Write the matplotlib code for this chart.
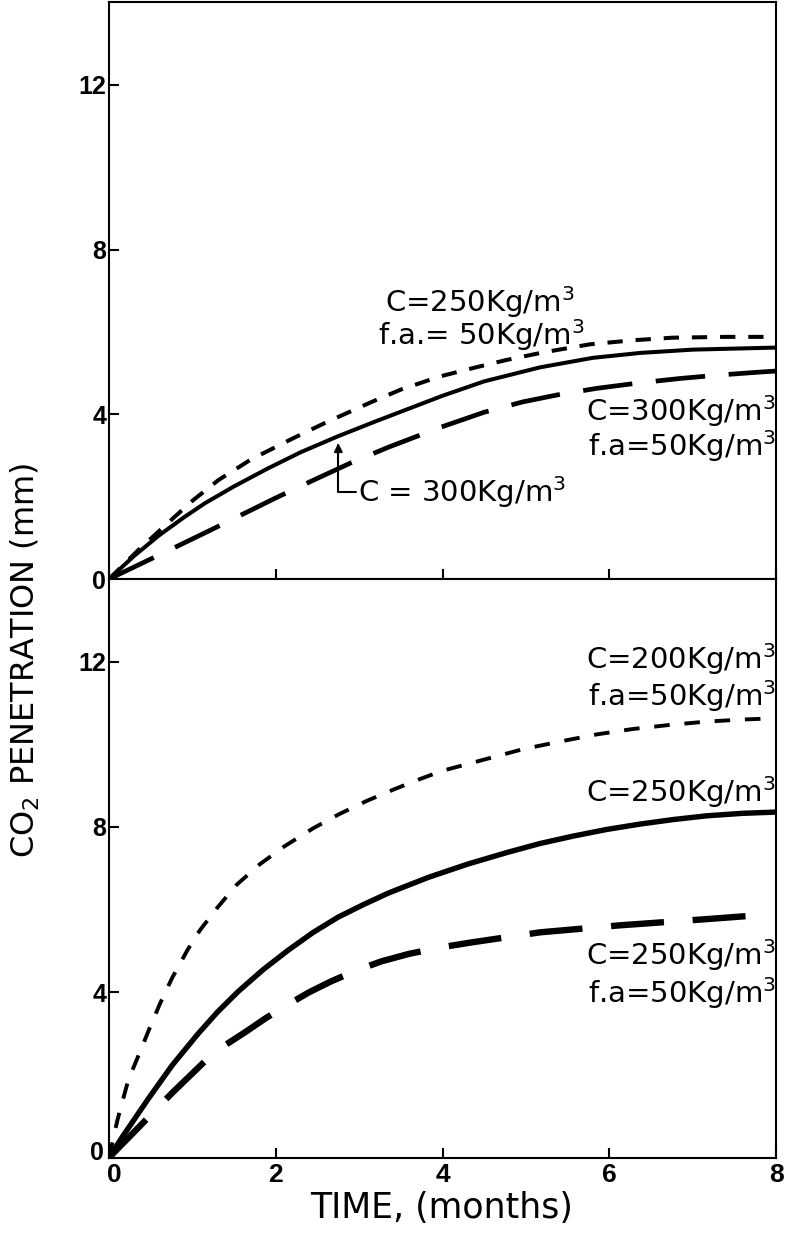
import numpy as np
import matplotlib

matplotlib.use('Agg')
import matplotlib.pyplot as plt
from matplotlib.transforms import ScaledTranslation

FIGSIZE = (7.85, 12.33)
TICK_FONT = 'Liberation Sans'
TEXT_FONT = 'DejaVu Sans'

# upper panel, each curve
t_c250_fa50_upper = [0, 0.35, 0.7, 1.0, 1.31, 1.7, 2.19, 2.6, 3.15, 3.5, 3.97, 4.4, 4.77, 5.2, 5.77, 6.3, 6.76, 7.4, 8.0]
v_c250_fa50_upper = [0, 0.70, 1.35, 1.9, 2.4, 2.9, 3.4, 3.8, 4.3, 4.6, 4.92, 5.14, 5.32, 5.5, 5.7, 5.8, 5.86, 5.88, 5.88]

t_c300_upper = [0, 0.3, 0.6, 0.9, 1.15, 1.5, 1.9, 2.3, 2.75, 3.2, 3.6, 4.0, 4.5, 5.17, 5.8, 6.37, 7.0, 8.0]
v_c300_upper = [0, 0.56, 1.06, 1.5, 1.84, 2.25, 2.68, 3.08, 3.47, 3.83, 4.14, 4.45, 4.8, 5.14, 5.37, 5.49, 5.57, 5.62]

t_c300_fa50_upper = [0, 0.67, 1.2, 1.63, 2.0, 2.43, 2.9, 3.35, 3.97, 4.5, 4.96, 5.4, 5.85, 6.35, 6.85, 7.3, 7.77, 8.0]
v_c300_fa50_upper = [0, 0.65, 1.17, 1.6, 1.97, 2.38, 2.82, 3.2, 3.68, 4.05, 4.3, 4.48, 4.63, 4.76, 4.87, 4.95, 5.02, 5.05]

# lower panel
t_c200_fa50_lower = [0, 0.1, 0.23, 0.37, 0.47, 0.61, 0.76, 0.94, 1.09, 1.3, 1.53, 1.81, 2.11, 2.45, 2.75, 3.09,
                     3.43, 3.73, 4.0, 4.48, 4.96, 5.44, 5.85, 6.28, 6.73, 7.17, 7.6, 8.0]
v_c200_fa50_lower = [0, 0.9, 1.87, 2.55, 3.05, 3.72, 4.36, 5.02, 5.5, 6.05, 6.6, 7.1, 7.54, 7.97, 8.3, 8.63,
                     8.92, 9.16, 9.36, 9.62, 9.88, 10.08, 10.24, 10.37, 10.47, 10.55, 10.6, 10.63]

t_c250_lower = [0, 0.16, 0.47, 0.76, 1.07, 1.3, 1.55, 1.85, 2.15, 2.45, 2.75, 3.05, 3.35, 3.83, 4.3, 4.77,
                5.17, 5.57, 5.97, 6.37, 6.77, 7.17, 7.6, 8.0]
v_c250_lower = [0, 0.5, 1.42, 2.24, 3.0, 3.52, 4.02, 4.55, 5.02, 5.45, 5.82, 6.12, 6.4, 6.78, 7.1, 7.38,
                7.6, 7.78, 7.94, 8.07, 8.18, 8.27, 8.33, 8.36]

t_c250_fa50_lower = [0, 0.35, 0.76, 1.15, 1.4, 1.63, 1.87, 2.11, 2.4, 2.67, 2.97, 3.27, 3.6, 3.99, 4.36, 5.17,
                     6.13, 7.17, 7.96]
v_c250_fa50_lower = [0, 0.72, 1.57, 2.33, 2.73, 3.03, 3.36, 3.66, 4.0, 4.27, 4.53, 4.75, 4.93, 5.09, 5.21, 5.45,
                     5.62, 5.77, 5.89]

y_ticks = [0, 4, 8, 12]
x_ticks = [0, 2, 4, 6, 8]

plt.rcParams['font.family'] = [TEXT_FONT]
plt.rcParams['mathtext.fontset'] = 'dejavusans'

fig = plt.figure(figsize=FIGSIZE, dpi=100)
ax_top = fig.add_axes([0.1389, 0.5304, 0.8497, 0.4676])
ax_bot = fig.add_axes([0.1389, 0.0612, 0.8497, 0.4692])


def style_axis(ax, show_x):
    ax.set_xlim(0, 8)
    ax.set_ylim(0, 14)
    ax.set_xticks(x_ticks)
    ax.set_yticks(y_ticks)
    ax.tick_params(direction='in', length=7, width=1.5, colors='black')
    ax.tick_params(axis='y', pad=2)
    ax.tick_params(axis='x', pad=4)
    for lab in ax.get_yticklabels():
        lab.set_fontproperties(dict(family=TICK_FONT, weight='bold', size=18))
    for lab in ax.get_xticklabels():
        lab.set_fontproperties(dict(family=TICK_FONT, weight='bold', size=19))
    if not show_x:
        ax.set_xticklabels([])
    for sp in ax.spines.values():
        sp.set_linewidth(1.5)


style_axis(ax_top, False)
style_axis(ax_bot, True)

# the two zeros at the lower-left corner sit apart in the original
ylab0 = ax_bot.get_yticklabels()[0]
ylab0.set_transform(ylab0.get_transform() + ScaledTranslation(-2 / 72, 5 / 72, fig.dpi_scale_trans))
xlab0 = ax_bot.get_xticklabels()[0]
xlab0.set_transform(xlab0.get_transform() + ScaledTranslation(4 / 72, 0, fig.dpi_scale_trans))

ax_top.plot(t_c250_fa50_upper, v_c250_fa50_upper, color='black', lw=2.9, dashes=(3.8, 3.2))
ax_top.plot(t_c300_upper, v_c300_upper, color='black', lw=2.9)
ax_top.plot(t_c300_fa50_upper, v_c300_fa50_upper, color='black', lw=3.4, dashes=(10.5, 5))

ax_bot.plot(t_c200_fa50_lower, v_c200_fa50_lower, color='black', lw=2.8, dashes=(4, 3.8))
ax_bot.plot(t_c250_lower, v_c250_lower, color='black', lw=3.9)
ax_bot.plot(t_c250_fa50_lower, v_c250_fa50_lower, color='black', lw=4.6, dashes=(8.3, 4.5))

tfs = 21
ax_top.text(3.31, 6.72, 'C=250Kg/m$^3$', fontsize=tfs, va='center', ha='left')
ax_top.text(3.22, 5.93, 'f.a.= 50Kg/m$^3$', fontsize=tfs, va='center', ha='left')
ax_top.text(8.0, 4.08, 'C=300Kg/m$^3$', fontsize=tfs, va='center', ha='right')
ax_top.text(8.0, 3.23, 'f.a=50Kg/m$^3$', fontsize=tfs, va='center', ha='right')
ax_top.annotate('C = 300Kg/m$^3$', xy=(2.75, 3.3), xytext=(2.99, 2.12),
                fontsize=tfs, va='center', ha='left',
                arrowprops=dict(arrowstyle='-|>', color='black', lw=1.5,
                                mutation_scale=12, shrinkA=0, shrinkB=0,
                                relpos=(0, 0.5),
                                connectionstyle='angle,angleA=180,angleB=90,rad=0'))

ax_bot.text(8.0, 12.06, 'C=200Kg/m$^3$', fontsize=tfs, va='center', ha='right')
ax_bot.text(8.0, 11.16, 'f.a=50Kg/m$^3$', fontsize=tfs, va='center', ha='right')
ax_bot.text(8.0, 8.84, 'C=250Kg/m$^3$', fontsize=tfs, va='center', ha='right')
ax_bot.text(8.0, 4.9, 'C=250Kg/m$^3$', fontsize=tfs, va='center', ha='right')
ax_bot.text(8.0, 3.98, 'f.a=50Kg/m$^3$', fontsize=tfs, va='center', ha='right')

fig.text(25 / 785, 1 - 660 / 1233, 'CO$_2$ PENETRATION (mm)', fontsize=23,
         rotation=90, ha='center', va='center')
fig.text(442 / 785, 1 - 1208 / 1233, 'TIME, (months)', fontsize=25,
         ha='center', va='center')

fig.savefig('out.png', dpi=100)
